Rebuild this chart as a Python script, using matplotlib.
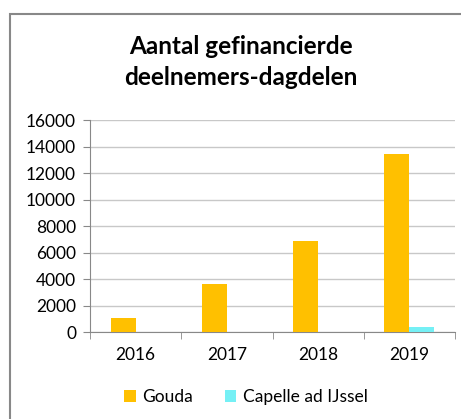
import matplotlib
matplotlib.use("Agg")
import matplotlib.pyplot as plt
from matplotlib.patches import Rectangle
import numpy as np

years = ["2016", "2017", "2018", "2019"]
gouda = [1050, 3600, 6850, 13400]
capelle = [0, 0, 0, 380]
yticks = [0, 2000, 4000, 6000, 8000, 10000, 12000, 14000, 16000]
title = "Aantal gefinancierde\ndeelnemers-dagdelen"

plt.rcParams['font.family'] = ['Lato', 'DejaVu Sans']

W, H = 461, 419
fig = plt.figure(figsize=(W/100, H/100), dpi=100)

# chart frame
fig.patches.append(Rectangle((10/W, 0 - 0.1), 1.2, (H-14)/H + 0.1, transform=fig.transFigure,
                             fill=False, edgecolor="#888888", linewidth=1.5))

ax = fig.add_axes([90/W, 1 - 332/H, (455-90)/W, (332-120)/H])
x = np.arange(len(years))
bw = 0.275
ax.bar(x - bw/2, gouda, bw, color="#FFC000", label="Gouda", zorder=3)
ax.bar(x + bw/2, capelle, bw, color="#75F0F5", label="Capelle ad IJssel", zorder=3)

ax.set_xlim(-0.5, len(years) - 0.5)
ax.set_ylim(0, 16000)
ax.set_yticks(yticks)
ax.set_yticklabels([str(v) for v in yticks], fontsize=12.5)
ax.yaxis.grid(True, color="#C8C8C8", linewidth=1, zorder=0)
ax.set_xticks(x)
ax.set_xticklabels(years, fontsize=12.5)
ax.set_xticks(np.arange(len(years) + 1) - 0.5, minor=True)
ax.tick_params(axis='x', which='major', length=0, pad=11)
ax.tick_params(axis='x', which='minor', length=5, color="#888888")
ax.tick_params(axis='y', length=5, color="#888888", pad=5)
for s in ["top", "right"]:
    ax.spines[s].set_visible(False)
ax.spines["left"].set_color("#888888")
ax.spines["bottom"].set_color("#888888")

fig.text(241/W, 1 - 62/H, title, ha="center", va="center", fontsize=17.5,
         fontweight="bold", linespacing=1.45)

fig.legend(loc="center", bbox_to_anchor=(246/W, 1 - 397/H), ncol=2, frameon=False,
           fontsize=12.5, handlelength=0.65, handleheight=0.65, handletextpad=0.4,
           columnspacing=1.8)

fig.savefig("out.png", dpi=100, facecolor="white")
